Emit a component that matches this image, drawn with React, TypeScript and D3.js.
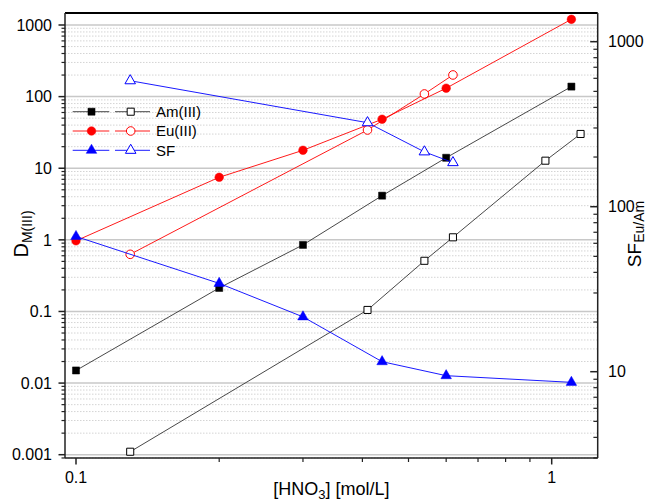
import React from 'react';
import * as d3 from 'd3';

// ---- data ----
const xFilled = [0.1, 0.2, 0.3, 0.44, 0.6, 1.1];
const amFilled = [0.015, 0.213, 0.85, 4.14, 14.0, 138];
const euFilled = [0.97, 7.47, 17.8, 48.3, 131, 1200];
const sfFilled = [66, 34.3, 21.5, 11.5, 9.46, 8.62];

const xOpenAm = [0.13, 0.41, 0.54, 0.62, 0.97, 1.15];
const amOpen = [0.0011, 0.105, 0.51, 1.085, 12.75, 30.1];
const xOpenEu = [0.13, 0.41, 0.54, 0.62];
const euOpen = [0.628, 34.2, 108.9, 200.6];
const sfOpen = [580, 323, 215, 185];

const leftTicks = [0.001, 0.01, 0.1, 1, 10, 100, 1000];
const leftTickLabels = ['0.001', '0.01', '0.1', '1', '10', '100', '1000'];
const rightTicks = [10, 100, 1000];
const rightTickLabels = ['10', '100', '1000'];
const xTicks = [0.1, 1];
const xTickLabels = ['0.1', '1'];
const seriesLabels = ['Am(III)', 'Eu(III)', 'SF'];

// ---- layout ----
const W = 649, H = 501;
const PL = 65, PR = 597.7, PT = 13, PB = 458;
const FONT = "Arial, 'Liberation Sans', sans-serif";

const x = d3.scaleLog().domain([0.1, 1]).range([76, 551.7]);
const yL = d3.scaleLog().domain([0.001, 1000]).range([454.7, 25]);
const yR = d3.scaleLog().domain([10, 1000]).range([371.7, 41.7]);

function minors(scale: any, lo: number, hi: number, dLo: number, dHi: number) {
  const out: number[] = [];
  for (let d = dLo; d <= dHi; d++) {
    for (let k = 2; k <= 9; k++) {
      const v = k * Math.pow(10, d);
      const p = scale(v);
      if (p >= Math.min(lo, hi) && p <= Math.max(lo, hi)) out.push(v);
    }
  }
  return out;
}

const sq = d3.symbol().type(d3.symbolSquare).size(50)();
const circ = d3.symbol().type(d3.symbolCircle).size(58)();
const tri = d3.symbol().type(d3.symbolTriangle).size(48)();

const BLACK = '#000000', RED = '#ff0000', BLUE = '#0000ff';

function Series({ xs, ys, yScale, color, lineColor, path, open }: any) {
  const line = d3.line<number>().x((_, i) => x(xs[i])).y((d) => yScale(d));
  return (
    <g>
      <path d={line(ys) || ''} fill="none" stroke={lineColor} strokeWidth={0.9} />
      {ys.map((v: number, i: number) => (
        <path
          key={i}
          d={path}
          transform={`translate(${x(xs[i])},${yScale(v)})`}
          fill={open ? '#ffffff' : color}
          stroke={color}
          strokeWidth={open ? 1 : 0.5}
        />
      ))}
    </g>
  );
}

export default function App() {
  const leftMinor = minors(yL, PT, PB, -4, 3);
  const rightMinor = minors(yR, PT, PB, 0, 3);
  const xMinor = minors(x, PL, PR, -2, 0);

  const legendRows = [
    { y: 111.7, color: BLACK, line: '#333333', path: sq },
    { y: 131, color: RED, line: RED, path: circ },
    { y: 150.3, color: BLUE, line: BLUE, path: tri },
  ];

  return (
    <svg width={W} height={H} style={{ position: 'absolute', left: 0, top: 0, background: '#fff' }} fontFamily={FONT}>
      <rect x={0} y={0} width={W} height={H} fill="#ffffff" />
      {/* minor grid */}
      {leftMinor.map((v, i) => (
        <line key={'mg' + i} x1={PL} x2={PR} y1={yL(v)} y2={yL(v)} stroke="#d4d4d4" strokeWidth={1} strokeDasharray="1.5,1.5" />
      ))}
      {/* major grid */}
      {leftTicks.map((v, i) => (
        <line key={'g' + i} x1={PL} x2={PR} y1={yL(v)} y2={yL(v)} stroke="#c8c8c8" strokeWidth={1.5} />
      ))}

      {/* series */}
      <Series xs={xOpenAm} ys={amOpen} yScale={yL} color={BLACK} lineColor="#333333" path={sq} open />
      <Series xs={xFilled} ys={amFilled} yScale={yL} color={BLACK} lineColor="#333333" path={sq} />
      <Series xs={xOpenEu} ys={euOpen} yScale={yL} color={RED} lineColor={RED} path={circ} open />
      <Series xs={xFilled} ys={euFilled} yScale={yL} color={RED} lineColor={RED} path={circ} />
      <Series xs={xOpenEu} ys={sfOpen} yScale={yR} color={BLUE} lineColor={BLUE} path={tri} open />
      <Series xs={xFilled} ys={sfFilled} yScale={yR} color={BLUE} lineColor={BLUE} path={tri} />

      {/* legend */}
      {legendRows.map((r, i) => (
        <g key={'lg' + i}>
          <line x1={72.7} x2={109.3} y1={r.y} y2={r.y} stroke={r.line} strokeWidth={0.9} />
          <path d={r.path} transform={`translate(91.5,${r.y})`} fill={r.color} stroke={r.color} strokeWidth={0.5} />
          <line x1={115} x2={150} y1={r.y} y2={r.y} stroke={r.line} strokeWidth={0.9} />
          <path d={r.path} transform={`translate(130.7,${r.y})`} fill="#ffffff" stroke={r.color} strokeWidth={1} />
          <text x={156} y={r.y} dy="0.36em" fontSize={15} fill="#000">{seriesLabels[i]}</text>
        </g>
      ))}

      {/* frame */}
      <line x1={PL} x2={PR} y1={PT} y2={PT} stroke="#000" strokeWidth={2} />
      <line x1={PL} x2={PL} y1={PT} y2={PB} stroke="#222" strokeWidth={1.5} />
      <line x1={PR} x2={PR} y1={PT} y2={PB} stroke="#222" strokeWidth={1.5} />
      <line x1={PL} x2={PR} y1={PB} y2={PB} stroke="#222" strokeWidth={1.5} />

      {/* left axis ticks */}
      {leftTicks.map((v, i) => (
        <g key={'lt' + i}>
          <line x1={PL - 6.5} x2={PL} y1={yL(v)} y2={yL(v)} stroke="#222" strokeWidth={1.5} />
          <text x={52} y={yL(v)} dy="0.36em" textAnchor="end" fontSize={16} fill="#000">{leftTickLabels[i]}</text>
        </g>
      ))}
      {leftMinor.map((v, i) => (
        <line key={'lm' + i} x1={PL - 3.5} x2={PL} y1={yL(v)} y2={yL(v)} stroke="#222" strokeWidth={1.2} />
      ))}

      {/* right axis ticks (inward) */}
      {rightTicks.map((v, i) => (
        <g key={'rt' + i}>
          <line x1={PR - 7.5} x2={PR} y1={yR(v)} y2={yR(v)} stroke="#222" strokeWidth={1.5} />
          <text x={608} y={yR(v)} dy="0.36em" fontSize={16} fill="#000">{rightTickLabels[i]}</text>
        </g>
      ))}
      {rightMinor.map((v, i) => (
        <line key={'rm' + i} x1={PR - 4.3} x2={PR} y1={yR(v)} y2={yR(v)} stroke="#222" strokeWidth={1.2} />
      ))}

      {/* bottom axis ticks */}
      {xTicks.map((v, i) => (
        <g key={'xt' + i}>
          <line x1={x(v)} x2={x(v)} y1={PB} y2={PB + 6.5} stroke="#222" strokeWidth={1.5} />
          <text x={x(v)} y={483} textAnchor="middle" fontSize={16} fill="#000">{xTickLabels[i]}</text>
        </g>
      ))}
      {xMinor.map((v, i) => (
        <line key={'xm' + i} x1={x(v)} x2={x(v)} y1={PB} y2={PB + 4} stroke="#222" strokeWidth={1.2} />
      ))}

      {/* axis titles */}
      <text x={(PL + PR) / 2} y={495} textAnchor="middle" fontSize={18} fill="#000">
        [HNO<tspan fontSize={13} dy={4}>3</tspan><tspan dy={-4}>] [mol/L]</tspan>
      </text>
      <text transform="translate(28,234) rotate(-90)" textAnchor="middle" fontSize={20} fill="#000">
        D<tspan fontSize={14} dy={4}>M(III)</tspan>
      </text>
      <text transform="translate(641,234) rotate(-90)" textAnchor="middle" fontSize={19} fill="#000">
        SF<tspan fontSize={14} dy={3}>Eu/Am</tspan>
      </text>
    </svg>
  );
}
